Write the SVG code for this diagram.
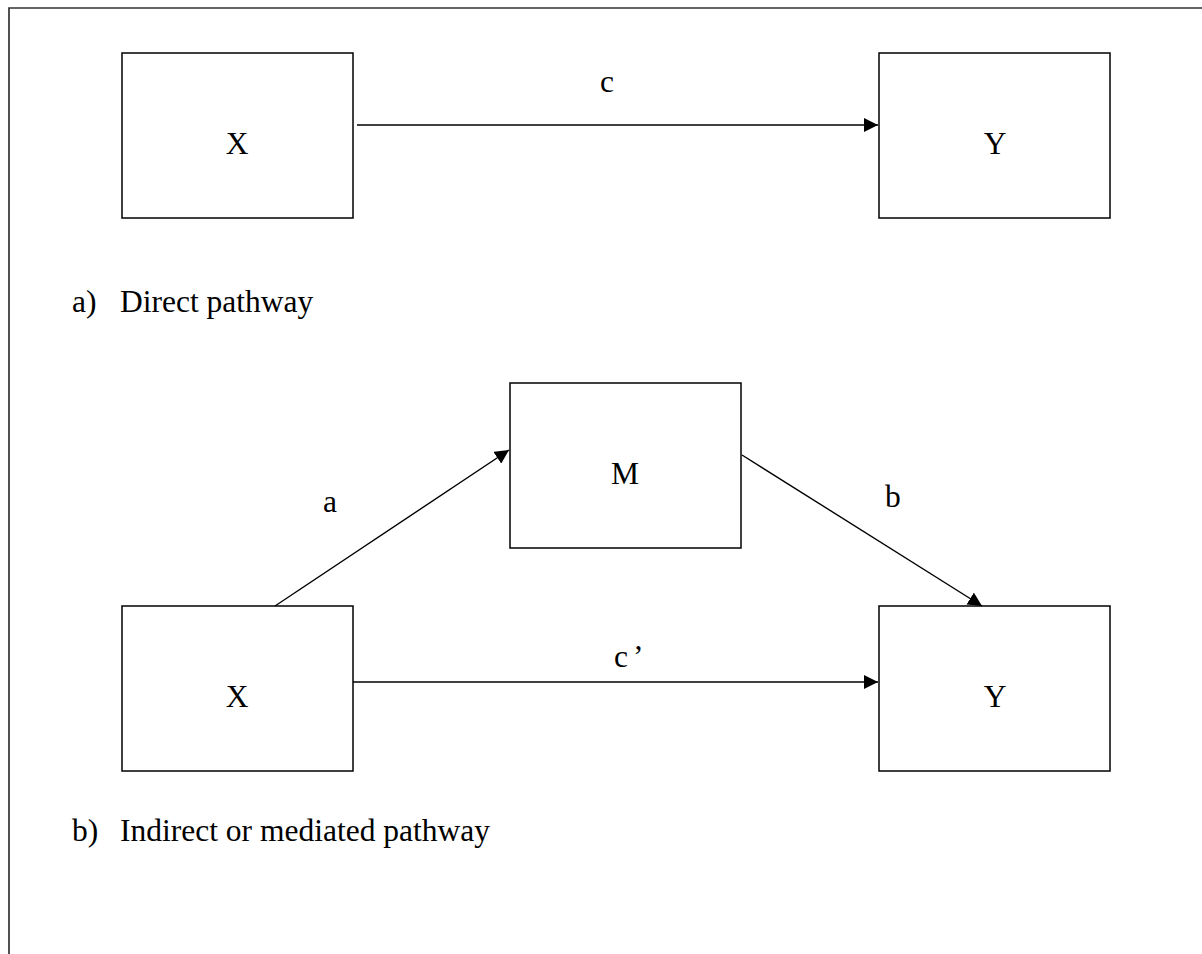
<svg xmlns="http://www.w3.org/2000/svg" width="1202" height="954" viewBox="0 0 1202 954">
<style>
.node rect{fill:#fff;stroke:#000;stroke-width:1.5}
text{font-family:"Liberation Serif","Times New Roman",serif;font-size:31.5px;fill:#000}
.lbl{text-anchor:middle}
.edge{stroke:#000;stroke-width:1.4;fill:none;marker-end:url(#ah)}
.frame{stroke:#333;stroke-width:1.7;fill:none}
</style>
<defs>
<marker id="ah" viewBox="0 0 14 14" refX="14" refY="7" markerWidth="14" markerHeight="14" markerUnits="userSpaceOnUse" orient="auto">
<path d="M0,0 L14,7 L0,14 Z" fill="#000"/>
</marker>
</defs>
<rect width="1202" height="954" fill="#fff"/>
<path class="frame" d="M9,954 L9,8 L1202,8"/>
<g id="nodeX1" class="node"><rect x="122" y="53" width="231" height="165"/><text class="lbl" x="237" y="154">X</text></g>
<g id="nodeY1" class="node"><rect x="879" y="53" width="231" height="165"/><text class="lbl" x="995" y="154">Y</text></g>
<g id="nodeM" class="node"><rect x="510" y="383" width="231" height="165"/><text class="lbl" x="625" y="484">M</text></g>
<g id="nodeX2" class="node"><rect x="122" y="606" width="231" height="165"/><text class="lbl" x="237" y="707">X</text></g>
<g id="nodeY2" class="node"><rect x="879" y="606" width="231" height="165"/><text class="lbl" x="995" y="707">Y</text></g>
<g id="connectors">
<line class="edge" x1="357" y1="125" x2="878" y2="125"/>
<line class="edge" x1="275" y1="606" x2="509" y2="450"/>
<line class="edge" x1="742" y1="455" x2="982" y2="606"/>
<line class="edge" x1="353" y1="682" x2="878" y2="682"/>
<text x="600" y="92">c</text>
<text x="323" y="512">a</text>
<text x="885" y="507">b</text>
<text x="614" y="667">c<tspan dx="5">’</tspan></text>
</g>
<g id="captions">
<text x="72" y="312">a)</text><text x="120" y="312">Direct pathway</text>
<text x="72" y="841">b)</text><text x="120" y="841">Indirect or mediated pathway</text>
</g>
</svg>
